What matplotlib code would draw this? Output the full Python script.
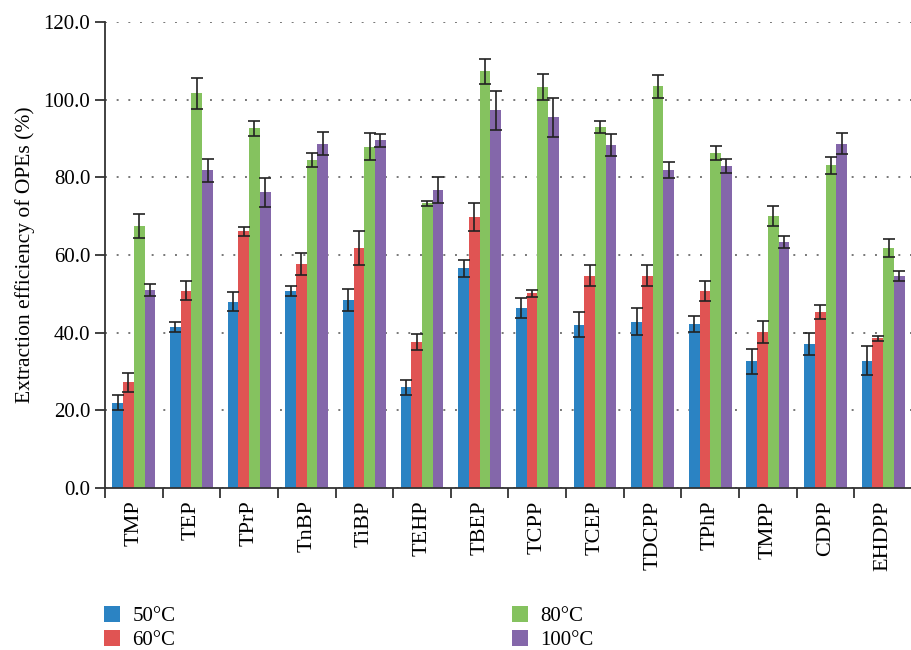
import numpy as np
import matplotlib
matplotlib.use('Agg')
from matplotlib import pyplot as plt
from matplotlib.ticker import FormatStrFormatter

# data
compounds = ['TMP', 'TEP', 'TPrP', 'TnBP', 'TiBP', 'TEHP', 'TBEP', 'TCPP',
             'TCEP', 'TDCPP', 'TPhP', 'TMPP', 'CDPP', 'EHDPP']
temps = ['50°C', '60°C', '80°C', '100°C']

eff_50 = [22.0, 41.5, 48.0, 50.8, 48.4, 25.9, 56.6, 46.4, 42.0, 42.8, 42.3, 32.6, 37.0, 32.8]
err_50 = [2.0, 1.2, 2.5, 1.3, 2.8, 2.0, 2.2, 2.5, 3.2, 3.5, 2.0, 3.2, 2.8, 3.8]
eff_60 = [27.2, 50.8, 66.1, 57.6, 61.8, 37.6, 69.8, 50.1, 54.7, 54.7, 50.7, 40.1, 45.3, 38.5]
err_60 = [2.5, 2.5, 1.2, 2.8, 4.3, 2.0, 3.6, 1.0, 2.8, 2.6, 2.6, 2.8, 1.7, 0.6]
eff_80 = [67.5, 101.6, 92.6, 84.4, 87.9, 73.3, 107.3, 103.2, 93.0, 103.4, 86.3, 70.0, 83.1, 61.8]
err_80 = [3.0, 4.0, 2.0, 1.8, 3.4, 0.7, 3.3, 3.3, 1.6, 3.0, 1.8, 2.5, 2.2, 2.4]
eff_100 = [51.0, 81.8, 76.1, 88.7, 89.5, 76.8, 97.3, 95.5, 88.3, 81.9, 82.9, 63.4, 88.6, 54.6]
err_100 = [1.5, 3.0, 3.8, 3.0, 1.7, 3.3, 5.0, 5.0, 2.8, 2.1, 1.8, 1.6, 2.7, 1.3]

values = [eff_50, eff_60, eff_80, eff_100]
errors = [err_50, err_60, err_80, err_100]
colors = ['#2b83c3', '#e05453', '#85c25f', '#8467aa']

plt.rcParams['font.family'] = ['Liberation Serif', 'DejaVu Serif']

fig = plt.figure(figsize=(9.12, 6.5), dpi=100)
ax = fig.add_axes([105 / 912, 1 - 488 / 650, 807 / 912, 466 / 650])

x = np.arange(len(compounds))
w = 0.186
for i in range(4):
    ax.bar(x + (i - 1.5) * w, values[i], width=w, color=colors[i],
           label=temps[i], zorder=2)
    ax.errorbar(x + (i - 1.5) * w, values[i], yerr=errors[i], fmt='none',
                ecolor='#222222', elinewidth=1.2, capsize=4, capthick=1.2,
                zorder=3)

ax.set_xlim(-0.5, -0.5 + 807 / 58.1)
ax.set_ylim(0, 120)
ax.set_yticks(np.arange(0, 121, 20))
ax.yaxis.set_major_formatter(FormatStrFormatter('%.1f'))
ax.set_xticks(np.arange(-0.5, len(compounds), 1.0))
ax.set_xticklabels([])
ax.set_xticks(x, minor=True)
ax.set_xticklabels(compounds, minor=True, rotation=90, fontsize=16)
ax.tick_params(axis='x', which='minor', length=0, pad=9)
ax.tick_params(axis='x', which='major', length=7, width=1.3, color='#333333')
ax.tick_params(axis='y', length=7, width=1.3, color='#333333', labelsize=15)
ax.set_ylabel('Extraction efficiency of OPEs (%)', fontsize=15.5, labelpad=6)

ax.spines['top'].set_visible(False)
ax.spines['right'].set_visible(False)
for s in ['left', 'bottom']:
    ax.spines[s].set_linewidth(1.3)
    ax.spines[s].set_color('#333333')

ax.grid(axis='y', color='#777777', linestyle=(0, (1, 5)), linewidth=1.4)
ax.set_axisbelow(True)

fig.legend(loc='lower left', bbox_to_anchor=(85 / 912, -19 / 650), ncol=2,
           frameon=False, fontsize=15, handlelength=0.77, handleheight=0.77,
           handletextpad=0.6, columnspacing=16.15, labelspacing=0.2)

fig.savefig('out.png', dpi=100)
